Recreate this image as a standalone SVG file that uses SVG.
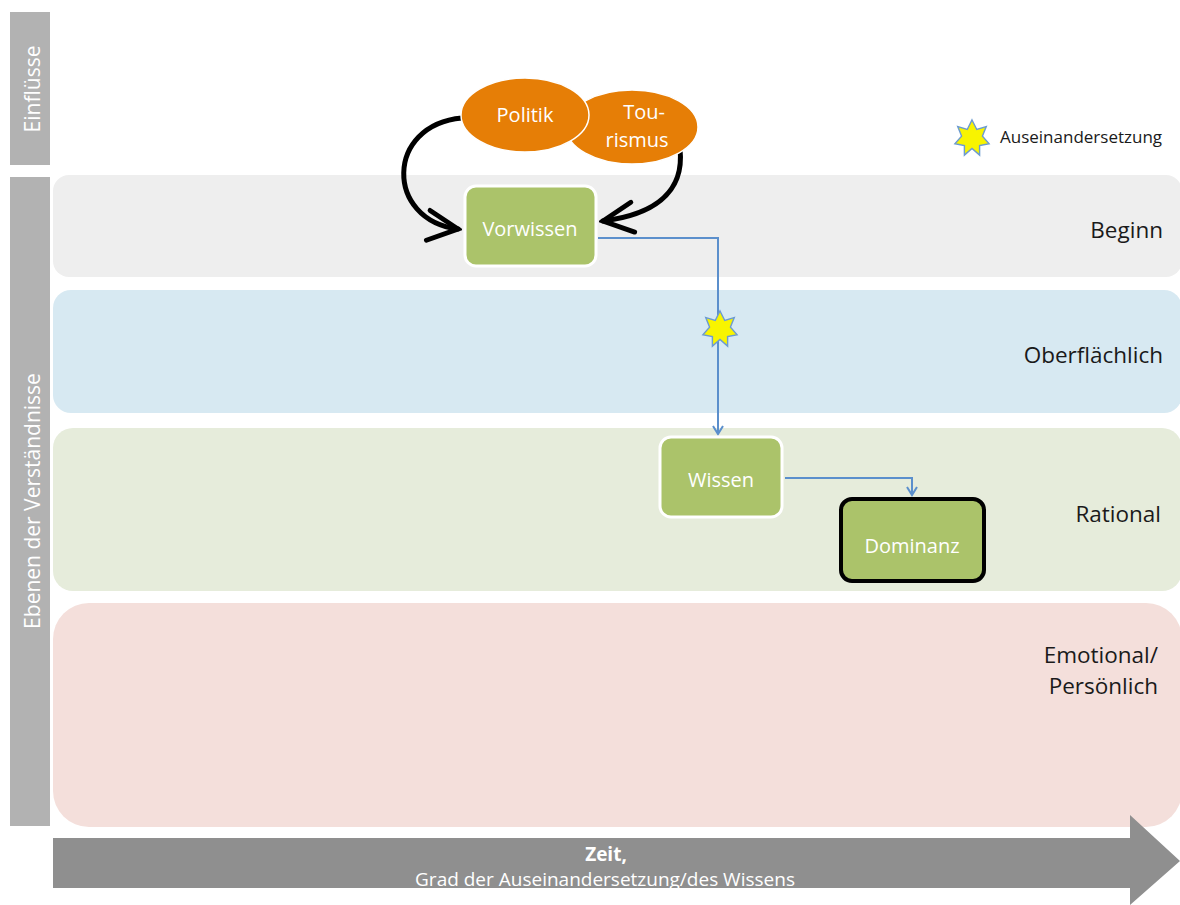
<svg xmlns="http://www.w3.org/2000/svg" width="1180" height="905" viewBox="0 0 1180 905">
  <defs>
    <style>
      text { font-family: "Open Sans", "Liberation Sans", sans-serif; }
      .side { fill: #b2b2b2; }
      .sidelbl { fill: #ffffff; font-size: 21px; text-anchor: middle; }
      .lvl { fill: #1a1a1a; font-size: 22.5px; text-anchor: end; }
      .box { fill: #abc36a; stroke: #ffffff; stroke-width: 3; }
      .boxlbl { fill: #ffffff; font-size: 20px; text-anchor: middle; }
      .oval { fill: #e67e06; stroke: #ffffff; stroke-width: 1.5; }
      .flow { fill: none; stroke: #5b8fcc; stroke-width: 2; }
      .curve { fill: none; stroke: #000000; stroke-width: 5; stroke-linecap: round; }
      .star { fill: #f8f400; stroke: #6c9bd0; stroke-width: 1.5; }
    </style>
    <marker id="open" viewBox="0 0 12 12" refX="10" refY="6" markerWidth="12" markerHeight="12" orient="auto" markerUnits="userSpaceOnUse">
      <path d="M2,1 L10,6 L2,11" fill="none" stroke="#5b8fcc" stroke-width="2"/>
    </marker>
    <marker id="openbig" viewBox="0 0 10 10" refX="9" refY="5" markerWidth="7.5" markerHeight="7.5" orient="auto">
      <path d="M1,1 L9,5 L1,9" fill="none" stroke="#000000" stroke-width="1.3" stroke-linecap="round"/>
    </marker>
    <path id="star7" d="M0,-19 L5,-9 L15,-12 L11,-2 L18,6 L8,8 L8,18 L0,11 L-8,18 L-8,8 L-18,6 L-11,-2 L-15,-12 L-5,-9 Z"/>
  </defs>

  <!-- side bars -->
  <g id="einfluesse">
    <rect class="side" x="10" y="12" width="40" height="153"/>
    <text class="sidelbl" transform="translate(40,89) rotate(-90)">Einflüsse</text>
  </g>
  <g id="ebenen">
    <rect class="side" x="10" y="177" width="40" height="649"/>
    <text class="sidelbl" transform="translate(40,501) rotate(-90)">Ebenen der Verständnisse</text>
  </g>

  <!-- level bands -->
  <g id="beginn">
    <rect x="53" y="175" width="1129" height="102" rx="16" fill="#eeeeee"/>
    <text class="lvl" x="1163" y="238">Beginn</text>
  </g>
  <g id="oberflaechlich">
    <rect x="53" y="290" width="1129" height="123" rx="18" fill="#d7e9f2"/>
    <text class="lvl" x="1163" y="363">Oberflächlich</text>
  </g>
  <g id="rational">
    <rect x="53" y="428" width="1129" height="163" rx="20" fill="#e6ecdb"/>
    <text class="lvl" x="1161" y="522">Rational</text>
  </g>
  <g id="emotional">
    <rect x="53" y="603" width="1129" height="224" rx="36" fill="#f4dfdb"/>
    <text class="lvl" x="1158" y="663">Emotional/</text>
    <text class="lvl" x="1158" y="694">Persönlich</text>
  </g>

  <!-- time axis -->
  <g id="zeit">
    <path d="M53,838 L1130,838 L1130,815 L1180,861 L1130,905 L1130,888 L53,888 Z" fill="#8f8f8f"/>
    <text x="606" y="861" fill="#ffffff" font-size="19" font-weight="bold" text-anchor="middle">Zeit,</text>
    <text x="605" y="886" fill="#ffffff" font-size="19" text-anchor="middle">Grad der Auseinandersetzung/des Wissens</text>
  </g>

  <!-- connectors -->
  <g id="connectors">
    <path class="curve" d="M462,118 C385,125 385,220 458,229" marker-end="url(#openbig)"/>
    <path class="curve" d="M680,149 C685,195 650,215 603,221" marker-end="url(#openbig)"/>
    <path class="flow" d="M598,238 L718,238 L718,434" marker-end="url(#open)"/>
    <path class="flow" d="M785,478 L912,478 L912,495" marker-end="url(#open)"/>
  </g>

  <!-- influences -->
  <g id="tourismus">
    <ellipse class="oval" cx="632" cy="127" rx="66" ry="37"/>
    <text class="boxlbl" x="644" y="119" font-size="19">Tou-</text>
    <text class="boxlbl" x="637" y="147" font-size="19">rismus</text>
  </g>
  <g id="politik">
    <ellipse class="oval" cx="525" cy="115" rx="64" ry="37"/>
    <text class="boxlbl" x="525" y="122">Politik</text>
  </g>

  <!-- knowledge nodes -->
  <g id="vorwissen">
    <rect class="box" x="465" y="186" width="131" height="80" rx="11"/>
    <text class="boxlbl" x="530" y="236">Vorwissen</text>
  </g>
  <g id="wissen">
    <rect class="box" x="660" y="437" width="122" height="80" rx="11"/>
    <text class="boxlbl" x="721" y="487">Wissen</text>
  </g>
  <g id="dominanz">
    <rect x="841" y="499" width="143" height="82" rx="11" fill="#abc36a" stroke="#000000" stroke-width="4"/>
    <text class="boxlbl" x="912" y="553">Dominanz</text>
  </g>

  <!-- conflict marker on the path -->
  <g id="konflikt">
    <use href="#star7" class="star" transform="translate(720,329) scale(0.95)"/>
  </g>

  <!-- legend -->
  <g id="legende">
    <use href="#star7" class="star" transform="translate(972,138) scale(0.95)"/>
    <text x="1000" y="143" fill="#1a1a1a" font-size="17">Auseinandersetzung</text>
  </g>
</svg>
